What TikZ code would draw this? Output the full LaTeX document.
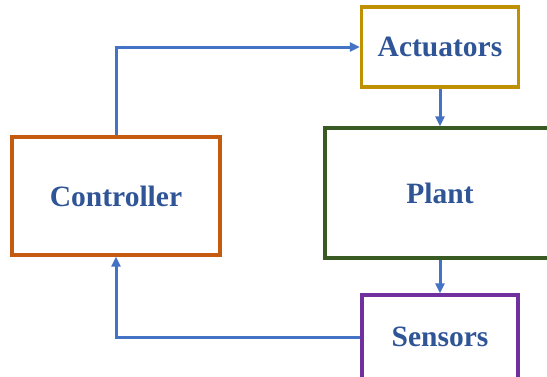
\documentclass[tikz,border=0pt]{standalone}
\usepackage{fontspec}
\setmainfont{Liberation Serif}
\usetikzlibrary{arrows.meta}
\definecolor{flowblue}{HTML}{4472C4}
\definecolor{labelblue}{HTML}{2F5597}
\definecolor{ctrlorange}{HTML}{C55A11}
\definecolor{actgold}{HTML}{BF9000}
\definecolor{plantgreen}{HTML}{3A5A23}
\definecolor{senspurple}{HTML}{7030A0}
\tikzset{
  block/.style={draw, line width=3.4pt, fill=white, inner sep=0pt,
    font=\fontsize{29.5}{31}\selectfont\bfseries, text=labelblue},
  flow/.style={draw=flowblue, line width=3pt,
    -{Triangle[length=10pt,width=9pt]}},
}
\begin{document}
\begin{tikzpicture}[x=1pt,y=-1pt]
  \useasboundingbox (0,0) rectangle (547,376);
  \clip (0,0) rectangle (547,376);
  \fill[white] (0,0) rectangle (547,376);
  \node[block, draw=ctrlorange, minimum width=208pt, minimum height=118pt] (ctrl) at (116,196) {Controller};
  \node[block, draw=actgold, minimum width=157pt, minimum height=80pt] (act) at (440,47) {Actuators};
  \node[block, draw=plantgreen, minimum width=230pt, minimum height=130pt] (plant) at (440,193) {Plant};
  \node[block, draw=senspurple, minimum width=156pt, minimum height=84pt] (sens) at (440,337) {Sensors};
  \draw[flow] (ctrl.north) |- (act.west);
  \draw[flow] (act.south) -- (plant.north);
  \draw[flow] (plant.south) -- (sens.north);
  \draw[flow] (sens.west) -| (ctrl.south);
\end{tikzpicture}
\end{document}
